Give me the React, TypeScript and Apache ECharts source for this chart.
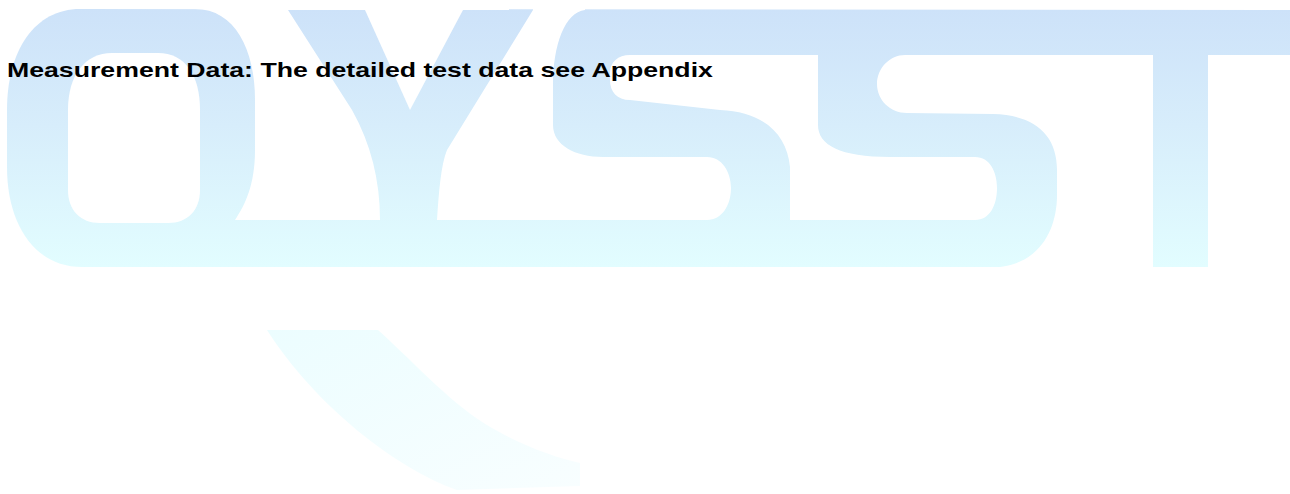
import React, { useEffect, useRef } from "react";
import * as echarts from "echarts";

// Page text
const TITLE_TEXT = "Measurement Data: The detailed test data see Appendix";
// Watermark letters (drawn as outlines below)
const WATERMARK_LETTERS = ["O", "Y", "S", "S", "T"];

const BAND_COLORS = ["#cde2f9", "#d7edfb", "#e2fdff"];
const TAIL_COLORS = ["#ecfdff", "#f8feff"];

const SHAPES: Record<string, string> = {
  wmBase:
    "M80 9 L1290 10 L1290 267 L82 267 C35 267 7 225 7 167 L7 110 C7 50 35 9 80 9 Z",
  wmHoleO:
    "M68 110 C68 75 85 53 112 53 L158 53 C185 53 200 75 200 110 L200 190 C200 210 188 223 168 223 L100 223 C80 223 68 210 68 190 Z",
  wmGapOY:
    "M195 0 L288 0 L288 10 L352 110 Q380 160 380 220 L235 220 C245 205 255 185 255 150 L255 100 C255 50 235 9 195 9 Z",
  wmNotchY: "M365 0 L463 0 L463 10 L410 110 L365 10 Z",
  wmGapYS:
    "M533 0 L585 0 L585 10 C565 12 553 45 553 85 L553 125 C553 145 575 157 603 157 L707 157 C722 157 731 172 731 188 C731 205 722 220 707 220 L437 220 C439 190 441 165 447 150 L533 10 Z",
  wmGapSS:
    "M630 55 L818 55 L818 125 C818 145 840 157 890 157 L975 157 C990 157 997 172 997 188 C997 205 990 220 975 220 L790 220 L790 167 C787 135 765 112 720 110 L630 100 C617 100 610 92 610 80 L610 73 C610 62 618 55 630 55 Z",
  wmGapST:
    "M905 55 L1153 55 L1153 285 L990 285 L1000 267 C1040 262 1057 230 1057 195 L1057 170 C1057 135 1035 115 993 114 L907 113 C890 113 877 100 877 84 C877 68 890 55 905 55 Z",
  wmTail:
    "M267 330 L378 330 C420 368 452 405 492 428 C525 447 555 457 580 463 L580 486 L457 490 C395 468 315 405 267 330 Z",
};

Object.keys(SHAPES).forEach((name) => {
  echarts.graphic.registerShape(name, echarts.graphic.extendPath(SHAPES[name], {}));
});

export default function App() {
  const ref = useRef<HTMLDivElement>(null);
  useEffect(() => {
    if (!ref.current) return;
    const chart = echarts.init(ref.current, null, { renderer: "svg" });
    const band = new echarts.graphic.LinearGradient(0, 0, 0, 1, [
      { offset: 0, color: BAND_COLORS[0] },
      { offset: 0.45, color: BAND_COLORS[1] },
      { offset: 1, color: BAND_COLORS[2] },
    ]);
    const tail = new echarts.graphic.LinearGradient(0, 0, 1, 1, [
      { offset: 0, color: TAIL_COLORS[0] },
      { offset: 1, color: TAIL_COLORS[1] },
    ]);
    const white = { fill: "#ffffff" };
    chart.setOption({
      animation: false,
      backgroundColor: "#ffffff",
      graphic: [
        { type: "wmBase", silent: true, style: { fill: band } },
        { type: "wmHoleO", silent: true, style: white },
        { type: "wmGapOY", silent: true, style: white },
        { type: "wmNotchY", silent: true, style: white },
        { type: "wmGapYS", silent: true, style: white },
        { type: "wmGapSS", silent: true, style: white },
        { type: "wmGapST", silent: true, style: white },
        {
          type: "rect",
          silent: true,
          shape: { x: 1208, y: 55, width: 100, height: 240 },
          style: white,
        },
        { type: "wmTail", silent: true, style: { fill: tail } },
        {
          type: "text",
          x: 7,
          y: 70,
          scaleX: 1.27,
          silent: true,
          style: {
            text: TITLE_TEXT,
            fontSize: 21,
            fontWeight: "bold",
            fontFamily: "'Liberation Sans', Arial, sans-serif",
            fill: "#000000",
            verticalAlign: "middle",
            align: "left",
          },
        },
      ],
    });
    return () => chart.dispose();
  }, []);
  return (
    <div
      ref={ref}
      data-letters={WATERMARK_LETTERS.join("")}
      style={{ position: "fixed", left: 0, top: 0, width: 1290, height: 494 }}
    />
  );
}
